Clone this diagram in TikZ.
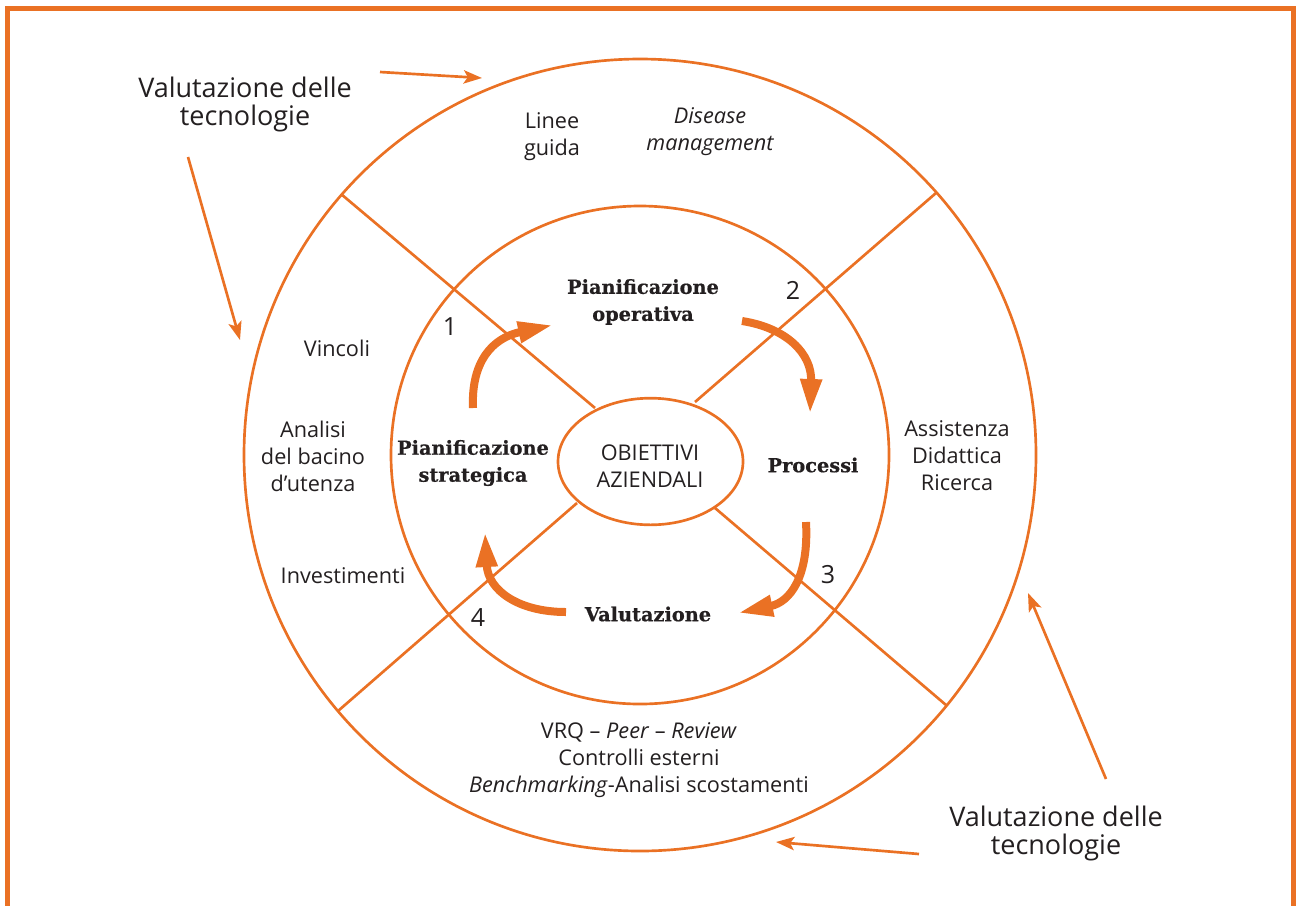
\documentclass[tikz,border=0pt]{standalone}
\usepackage{fontspec}
\setmainfont{Open Sans}
\newfontfamily\boldserif{DejaVu Serif}[UprightFont={* Bold},FakeBold=0.6]
\usetikzlibrary{arrows.meta,shapes.geometric}
\definecolor{org}{RGB}{234,113,36}
\definecolor{ink}{RGB}{35,31,32}
\begin{document}
\begin{tikzpicture}[x=0.6pt,y=-0.6pt,
 ring/.style={draw=org,line width=1.6pt},
 thinarrow/.style={draw=org,line width=1.6pt,-{Stealth[length=11pt,width=8pt,inset=2.5pt]}},
 bigarrow/.style={draw=org,line width=4.8pt,-{Triangle[length=21pt,width=12pt]}},
 txt/.style={text=ink,align=center,font=\fontsize{13}{16.2}\selectfont,inner sep=0pt},
 bigtxt/.style={text=ink,align=center,font=\fontsize{16.2}{16.8}\selectfont,inner sep=0pt},
 phase/.style={text=ink,align=center,font=\boldserif\fontsize{11.6}{16.2}\selectfont,inner sep=0pt},
 numtxt/.style={text=ink,font=\fontsize{15}{16}\selectfont,inner sep=0pt}]
\useasboundingbox (0,0) rectangle (1296,905);
\clip (0,0) rectangle (1296,905);
% frame
\draw[org,line width=3pt] (7,8.5) rectangle (1293.5,960);
% circles
\draw[ring] (640,455) circle[radius=396];
\draw[ring] (640,455) circle[radius=249];
\node[ring,ellipse,minimum width=111pt,minimum height=76pt,inner sep=0pt] (obj) at (650.5,461.5) {};
\node[txt,font=\fontsize{13}{16.2}\selectfont] (objt) at (650,466) {OBIETTIVI\\AZIENDALI};
% diagonals
\coordinate (oUL) at (341,194);
\coordinate (oUR) at (936,193);
\coordinate (oLL) at (338,711);
\coordinate (oLR) at (946,705);
\coordinate (eUL) at (595,408);
\coordinate (eUR) at (695,402);
\coordinate (eLL) at (577,503);
\coordinate (eLR) at (715,508);
\draw[ring] (oUL) -- (eUL);
\draw[ring] (oUR) -- (eUR);
\draw[ring] (oLL) -- (eLL);
\draw[ring] (oLR) -- (eLR);
% outer ring texts
\node[txt] (linee) at (552,137) {Linee\\guida};
\node[txt,font=\itshape\fontsize{13}{16.2}\selectfont] (disease) at (710,132) {Disease\\management};
\node[txt] (vincoli) at (337,348) {Vincoli};
\node[txt] (analisi) at (313,456) {Analisi\\del bacino\\d’utenza};
\node[txt] (invest) at (343,576) {Investimenti};
\node[txt] (assist) at (957,456) {Assistenza\\Didattica\\Ricerca};
\node[txt] (vrq) at (639,760) {VRQ – \textit{Peer} – \textit{Review}\\Controlli esterni\\\textit{Benchmarking}-Analisi scostamenti};
% phases
\node[phase] (pop) at (643,302) {Pianificazione\\operativa};
\node[phase] (pst) at (473,463) {Pianificazione\\strategica};
\node[phase] (proc) at (813,465) {Processi};
\node[phase] (valu) at (648,614) {Valutazione};
% numbers
\node[numtxt] (n1) at (450,327) {1};
\node[numtxt] (n2) at (793,290) {2};
\node[numtxt] (n3) at (828,575) {3};
\node[numtxt] (n4) at (478,618) {4};
% cycle arrows
\draw[bigarrow] (473,408) .. controls (471,362) and (492,338) .. (553,325);
\draw[bigarrow] (742,321) .. controls (787,328) and (812,354) .. (810,414);
\draw[bigarrow] (806,522) .. controls (809,577) and (790,602) .. (738,613);
\draw[bigarrow] (566,612) .. controls (518,612) and (488,590) .. (485,532);
% outer labels
\node[bigtxt] (vt1) at (245,104) {Valutazione delle\\tecnologie};
\node[bigtxt] (vt2) at (1056,833) {Valutazione delle\\tecnologie};
\coordinate (a1s) at (380,72);
\coordinate (a1e) at (482,78);
\coordinate (a2s) at (188,157);
\coordinate (a2e) at (240,340);
\coordinate (a3s) at (1106,779);
\coordinate (a3e) at (1028,593);
\coordinate (a4s) at (919,854);
\coordinate (a4e) at (776,842);
\draw[thinarrow] (a1s) -- (a1e);
\draw[thinarrow] (a2s) -- (a2e);
\draw[thinarrow] (a3s) -- (a3e);
\draw[thinarrow] (a4s) -- (a4e);
\end{tikzpicture}
\end{document}
